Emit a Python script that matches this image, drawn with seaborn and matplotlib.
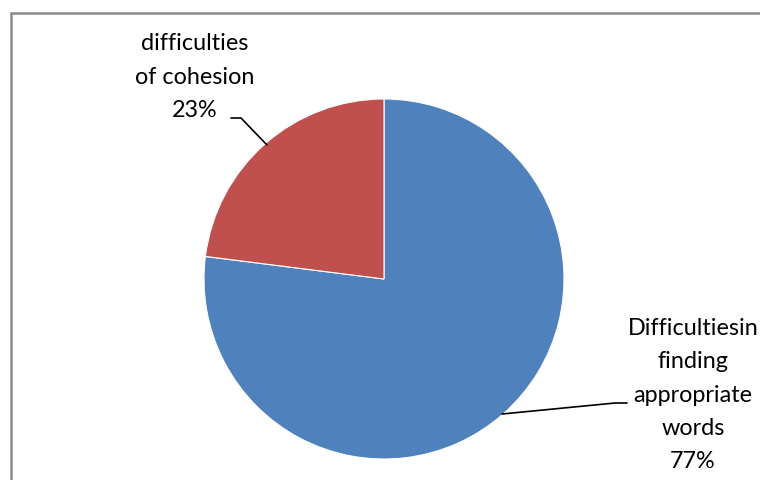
import matplotlib
matplotlib.use("Agg")
import matplotlib.pyplot as plt
from matplotlib.patches import Rectangle
import seaborn as sns

# Share of writing difficulties
categories = ["Difficultiesin\nfinding\nappropriate\nwords", "difficulties\nof cohesion"]
values = [77, 23]
colors = ["#4F81BD", "#C0504D"]

sns.set_theme(style="white")
plt.rcParams["font.family"] = ["Lato", "DejaVu Sans"]

W, H = 760, 480
fig = plt.figure(figsize=(W / 100, H / 100), dpi=100)
ax = fig.add_axes([0, 0, 1, 1])

# chart area frame (runs off the right and bottom edges)
ax.add_patch(Rectangle((10.5, -20), 800, H - 12.5 + 20, fill=False,
                       edgecolor="#8a8a8a", linewidth=1.8))

cx, cy, r = 384, H - 279, 180
ax.pie(values, colors=colors, startangle=90, counterclock=False,
       center=(cx, cy), radius=r, frame=True,
       wedgeprops=dict(linewidth=0.8, edgecolor="white"))
ax.set_xlim(0, W)
ax.set_ylim(0, H)
ax.set_aspect("equal")
ax.axis("off")

total = sum(values)
txt_kw = dict(fontsize=16.8, ha="center", va="center", color="black",
              linespacing=1.72)

# label for the larger slice
ax.text(693, H - 395, f"{categories[0]}\n{round(values[0] / total * 100)}%",
        clip_on=False, **txt_kw)
ax.plot([502, 615, 627], [H - 414, H - 403, H - 403], color="black", lw=1.2)

# label for the smaller slice
ax.text(195, H - 77, f"{categories[1]}\n{round(values[1] / total * 100)}%",
        **txt_kw)
ax.plot([231, 241, 267], [H - 118, H - 118, H - 145], color="black", lw=1.2)

fig.savefig("out.png", dpi=100)
